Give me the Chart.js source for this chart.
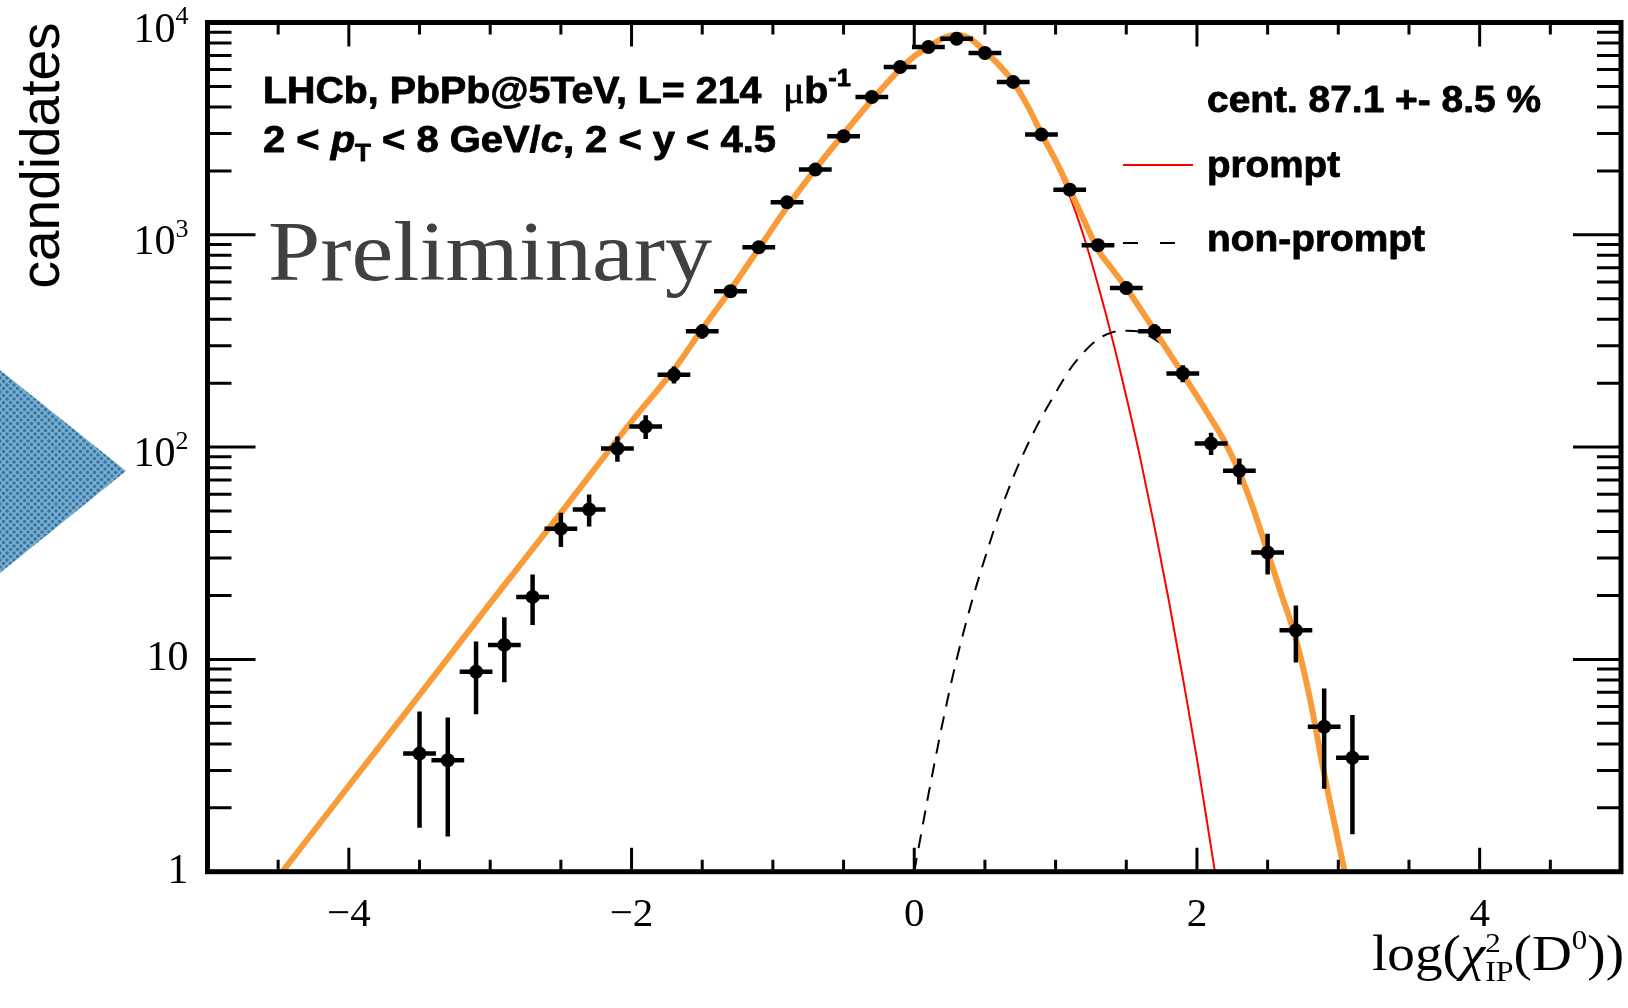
<!DOCTYPE html>
<html>
<head>
<meta charset="utf-8">
<script src="https://cdn.jsdelivr.net/npm/chart.js@4.4.1/dist/chart.umd.min.js"></script>
<style>
    html, body { margin: 0; padding: 0; background: #fff; }
    #wrap { width: 1628px; height: 1008px; position: relative; }
</style>
</head>
<body>
<div id="wrap"><canvas id="myChart"></canvas></div>
<script>
// histogram: bin centres, contents and errors
var binCentres = [-3.5, -3.3, -3.1, -2.9, -2.7, -2.5, -2.3, -2.1, -1.9, -1.7, -1.5, -1.3, -1.1, -0.9, -0.7, -0.5, -0.3, -0.1,
    0.1, 0.3, 0.5, 0.7, 0.9, 1.1, 1.3, 1.5, 1.7, 1.9, 2.1, 2.3, 2.5, 2.7, 2.9, 3.1];
var counts = [3.6, 3.35, 8.75, 11.7, 19.7, 41.3, 50.8, 98.5, 125, 219, 351, 542, 874, 1422, 2028, 2911, 4460, 6170,
    7670, 8390, 7180, 5250, 2965, 1632, 893, 562, 351, 222, 104, 77.3, 31.9, 13.7, 4.82, 3.44];
var countErr = [1.95, 1.85, 3.1, 3.7, 4.8, 6.6, 7.5, 11, 13, 15, 19, 23, 30, 38, 45, 54, 67, 79,
    88, 92, 85, 72, 54, 40, 30, 24, 19, 15, 10, 9, 6.2, 3.8, 2.3, 1.9];
var binHalfWidth = 0.1;

// fit components
var fitX = [-4.47, -4.0, -3.5, -3.0, -2.5, -2.0, -1.7, -1.5, -1.3, -1.1, -0.9, -0.7, -0.5, -0.3, -0.1, 0.0, 0.1, 0.2, 0.3,
    0.4, 0.5, 0.6, 0.7, 0.8, 0.9, 1.0, 1.1, 1.2, 1.3, 1.4, 1.5, 1.7, 1.9, 2.0, 2.1, 2.2, 2.3, 2.4, 2.5, 2.6, 2.7, 2.8, 2.9, 3.045];
var fitY = [1, 2.54, 6.8, 18.4, 49, 132, 232, 360, 550, 861, 1350, 2040, 2985, 4315, 6030, 6920, 7670, 8410, 8760,
    8350, 7300, 6300, 5250, 4070, 3000, 2240, 1633, 1175, 850, 690, 562, 355, 221, 174, 136, 105, 76, 51, 32, 20, 12.5, 6.5, 2.9, 1];

var promptX = [-4.47, -4.0, -3.5, -3.0, -2.5, -2.0, -1.7, -1.5, -1.3, -1.1, -0.9, -0.7, -0.5, -0.3, -0.1, 0.0, 0.1, 0.2, 0.3,
    0.4, 0.5, 0.6, 0.7, 0.8, 0.9, 1.0, 1.1, 1.2, 1.3, 1.4, 1.5, 1.6, 1.7, 1.8, 1.9, 2.0, 2.127];
var promptY = [1, 2.54, 6.8, 18.4, 49, 132, 232, 360, 550, 861, 1350, 2040, 2985, 4315, 6029, 6919, 7668, 8405, 8750,
    8330, 7270, 6250, 5180, 3970, 2880, 2160, 1520, 979, 580, 326, 173, 88, 42, 19.1, 8.2, 3.4, 1];

var nonPromptX = [0.0, 0.1, 0.2, 0.3, 0.4, 0.5, 0.6, 0.7, 0.8, 0.9, 1.0, 1.1, 1.2, 1.3, 1.4, 1.5, 1.6, 1.7, 1.8, 1.9,
    2.0, 2.1, 2.2, 2.3, 2.4, 2.5, 2.6, 2.7, 2.8, 2.9, 3.045];
var nonPromptY = [1.0, 2.3, 5.0, 10, 18, 30, 48, 72, 102, 138, 180, 232, 280, 322, 347, 353, 348, 322, 285, 215,
    171, 135, 104, 75, 50, 31.5, 19.8, 12.4, 6.4, 2.9, 1];

// axes
var xTicks = [-4, -2, 0, 2, 4];
var xTickLabels = ['\u22124', '\u22122', '0', '2', '4'];
var yDecades = [1, 10, 100, 1000, 10000];
var yTickLabels = [['1', ''], ['10', ''], ['10', '2'], ['10', '3'], ['10', '4']];

var toPoints = function (xs, ys) {
    return xs.map(function (x, i) { return {x: x, y: ys[i]}; });
};

// error bars as broken line segments
var errorBars = [];
binCentres.forEach(function (x, i) {
    var y = counts[i], e = countErr[i];
    errorBars.push({x: x - binHalfWidth, y: y}, {x: x + binHalfWidth, y: y}, {x: x, y: null});
    errorBars.push({x: x, y: y - e}, {x: x, y: y + e}, {x: x, y: null});
});

var richText = function (ctx, parts, x, y, width, color, heavy) {
    var total = 0;
    parts.forEach(function (p) {
        ctx.font = p.f;
        p.w = ctx.measureText(p.t).width;
        if (!p.keep) total += p.w;
    });
    ctx.save();
    ctx.translate(x, y);
    ctx.scale(width / total, 1);
    ctx.fillStyle = color || '#000';
    ctx.strokeStyle = color || '#000';
    ctx.lineWidth = heavy || 0;
    ctx.lineJoin = 'round';
    ctx.textBaseline = 'alphabetic';
    ctx.textAlign = 'left';
    var cx = 0;
    parts.forEach(function (p) {
        ctx.font = p.f;
        ctx.fillText(p.t, cx, p.dy || 0);
        if (heavy) ctx.strokeText(p.t, cx, p.dy || 0);
        if (!p.keep) cx += p.w;
    });
    ctx.restore();
};

var SANS = '"Liberation Sans", Arial, sans-serif';
var SERIF = '"Liberation Serif", "Times New Roman", serif';

var decor = {
    id: 'decor',
    beforeDraw: function (chart) {
        var ctx = chart.ctx;
        var c = document.createElement('canvas');
        c.width = 7; c.height = 7;
        var p = c.getContext('2d');
        p.fillStyle = '#78afd0';
        p.fillRect(0, 0, 7, 7);
        p.fillStyle = '#3a759f';
        [[0, 0], [7, 0], [0, 7], [7, 7], [3.5, 3.5]].forEach(function (d) {
            p.beginPath(); p.arc(d[0], d[1], 1.8, 0, Math.PI * 2); p.fill();
        });
        ctx.save();
        ctx.fillStyle = ctx.createPattern(c, 'repeat');
        ctx.beginPath();
        ctx.moveTo(0, 370); ctx.lineTo(126, 471); ctx.lineTo(0, 573); ctx.closePath();
        ctx.fill();
        ctx.restore();
    },
    afterDatasetsDraw: function (chart) {
        var ctx = chart.ctx, a = chart.chartArea;
        var xs = chart.scales.x, ys = chart.scales.y;
        ctx.save();
        ctx.strokeStyle = '#000';
        ctx.lineWidth = 3;
        ctx.beginPath();
        // y ticks, left and right, pointing inwards
        for (var k = 0; k < 4; k++) {
            for (var m = 1; m <= 10; m++) {
                var v = m * Math.pow(10, k);
                var py = ys.getPixelForValue(v);
                var len = (m === 1 || m === 10) ? 48 : 24;
                ctx.moveTo(a.left, py); ctx.lineTo(a.left + len, py);
                ctx.moveTo(a.right, py); ctx.lineTo(a.right - len, py);
            }
        }
        // x ticks, bottom and top
        for (var t = -4.5; t <= 4.51; t += 0.5) {
            var px = xs.getPixelForValue(t);
            var l2 = (Math.abs(t % 2) < 1e-6) ? 24 : 12;
            ctx.moveTo(px, a.bottom); ctx.lineTo(px, a.bottom - l2);
            ctx.moveTo(px, a.top); ctx.lineTo(px, a.top + l2);
        }
        ctx.stroke();
        ctx.lineWidth = 5;
        ctx.strokeRect(a.left, a.top, a.right - a.left, a.bottom - a.top);

        // y tick labels with exponents
        ctx.fillStyle = '#000';
        ctx.textBaseline = 'middle';
        ctx.textAlign = 'right';
        yDecades.forEach(function (v, i) {
            var py = ys.getPixelForValue(v);
            var lab = yTickLabels[i];
            var xr = a.left - 19;
            if (lab[1]) {
                ctx.font = '26px ' + SERIF;
                var sw = ctx.measureText(lab[1]).width;
                ctx.fillText(lab[1], xr, py - 5);
                ctx.font = '42px ' + SERIF;
                ctx.fillText(lab[0], xr - sw, py + 8);
            } else {
                ctx.font = '42px ' + SERIF;
                ctx.fillText(lab[0], xr, py);
            }
        });
        ctx.restore();
    },
    afterDraw: function (chart) {
        var ctx = chart.ctx;
        var b37 = 'bold 37px ' + SANS;
        richText(ctx, [
            {t: 'LHCb, PbPb@5TeV, L= 214  ', f: b37},
            {t: '\u03bc', f: '37px ' + SERIF},
            {t: 'b', f: b37},
            {t: '-1', f: 'bold 24px ' + SANS, dy: -17}
        ], 263, 103, 588, '#000', 0.8);
        richText(ctx, [
            {t: '2 < ', f: b37},
            {t: 'p', f: 'italic bold 37px ' + SANS},
            {t: 'T', f: 'bold 24px ' + SANS, dy: 9},
            {t: ' < 8 GeV/', f: b37},
            {t: 'c', f: 'italic bold 37px ' + SANS},
            {t: ', 2 < y < 4.5', f: b37}
        ], 263, 152, 513, '#000', 0.8);

        var b36 = 'bold 36px ' + SANS;
        richText(ctx, [{t: 'cent. 87.1 +- 8.5 %', f: b36}], 1207, 112, 334, '#000', 0.8);
        richText(ctx, [{t: 'prompt', f: b36}], 1207, 177, 133, '#000', 0.8);
        richText(ctx, [{t: 'non-prompt', f: b36}], 1207, 251, 218, '#000', 0.8);

        ctx.save();
        ctx.lineWidth = 2;
        ctx.strokeStyle = '#ff0000';
        ctx.beginPath(); ctx.moveTo(1123, 165); ctx.lineTo(1193, 165); ctx.stroke();
        ctx.strokeStyle = '#000';
        ctx.setLineDash([15, 22]);
        ctx.beginPath(); ctx.moveTo(1123, 243); ctx.lineTo(1178, 243); ctx.stroke();
        ctx.restore();

        richText(ctx, [{t: 'Preliminary', f: '84px ' + SERIF}], 268, 280, 444, '#404040');

        // x axis title
        var f50 = '50px ' + SERIF;
        richText(ctx, [
            {t: 'log(', f: f50},
            {t: '\u03c7', f: 'italic 50px ' + SERIF},
            {t: '2', f: '28px ' + SERIF, dy: -18, keep: true},
            {t: 'IP', f: '29px ' + SERIF, dy: 11},
            {t: '(D', f: f50},
            {t: '0', f: '28px ' + SERIF, dy: -21},
            {t: '))', f: f50}
        ], 1372, 970, 252);
    }
};

window.onload = function () {
    var ctx = document.getElementById('myChart').getContext('2d');
    var config = {
        type: 'scatter',
        data: {
            datasets: [{
                label: 'data',
                data: toPoints(binCentres, counts),
                backgroundColor: '#000',
                borderColor: '#000',
                pointRadius: 7,
                pointBorderWidth: 0,
                showLine: false
            }, {
                label: 'errors',
                data: errorBars,
                showLine: true,
                spanGaps: false,
                borderColor: '#000',
                borderWidth: 4.5,
                borderCapStyle: 'square',
                pointRadius: 0,
                tension: 0
            }, {
                label: 'total',
                data: toPoints(fitX, fitY),
                showLine: true,
                borderColor: '#f99b38',
                borderWidth: 6,
                pointRadius: 0,
                cubicInterpolationMode: 'monotone'
            }, {
                label: 'non-prompt',
                data: toPoints(nonPromptX, nonPromptY),
                showLine: true,
                borderColor: '#000',
                borderWidth: 2,
                borderDash: [14, 10],
                pointRadius: 0,
                cubicInterpolationMode: 'monotone'
            }, {
                label: 'prompt',
                data: toPoints(promptX, promptY),
                showLine: true,
                borderColor: '#ff0000',
                borderWidth: 2,
                pointRadius: 0,
                cubicInterpolationMode: 'monotone'
            }]
        },
        options: {
            responsive: true,
            maintainAspectRatio: false,
            animation: false,
            events: [],
            layout: {padding: {left: 0, top: 22.5, right: 4, bottom: 0}},
            plugins: {
                legend: {display: false},
                tooltip: {enabled: false}
            },
            scales: {
                x: {
                    type: 'linear',
                    min: -5,
                    max: 5,
                    afterBuildTicks: function (s) {
                        s.ticks = xTicks.map(function (v) { return {value: v}; });
                    },
                    afterFit: function (s) { s.height = 136.3; },
                    grid: {display: false, drawTicks: false},
                    border: {display: false},
                    ticks: {
                        padding: 19,
                        color: '#000',
                        font: {family: 'Liberation Serif', size: 41},
                        maxRotation: 0,
                        autoSkip: false,
                        callback: function (v, i) { return xTickLabels[i]; }
                    }
                },
                y: {
                    type: 'logarithmic',
                    min: 1,
                    max: 10000,
                    afterBuildTicks: function (s) {
                        s.ticks = yDecades.map(function (v) { return {value: v}; });
                    },
                    afterFit: function (s) { s.width = 207.5; },
                    grid: {display: false, drawTicks: false},
                    border: {display: false},
                    ticks: {display: false},
                    title: {
                        display: true,
                        text: 'candidates',
                        align: 'end',
                        color: '#000',
                        font: {family: 'Liberation Sans', size: 55},
                        padding: {top: 11, bottom: 0}
                    }
                }
            }
        },
        plugins: [decor]
    };
    window.myChart = new Chart(ctx, config);
};
</script>
</body>
</html>
